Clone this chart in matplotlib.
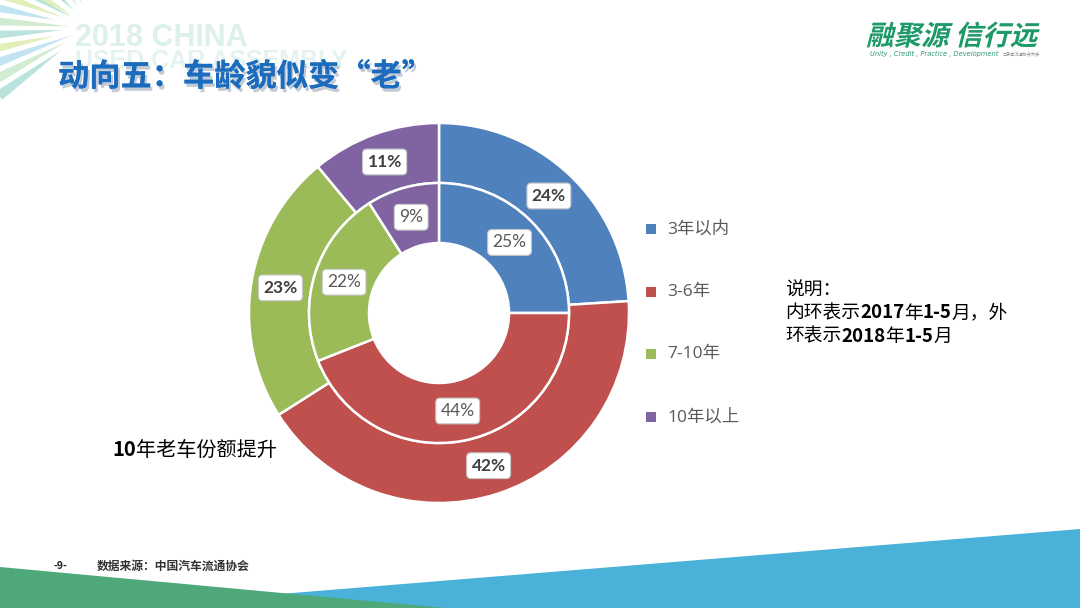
import numpy as np
import matplotlib
matplotlib.use("Agg")
import matplotlib.pyplot as plt
from matplotlib.patches import Rectangle, Polygon, PathPatch
from matplotlib.textpath import TextPath
from matplotlib.font_manager import FontProperties
from matplotlib.transforms import Affine2D, IdentityTransform
import matplotlib.patheffects as pe

plt.rcParams['font.family'] = ['Noto Sans CJK SC', 'DejaVu Sans']

# ---------------- data ----------------
categories = ["3年以内", "3-6年", "7-10年", "10年以上"]
inner_2017 = [25, 44, 22, 9]     # 2017年1-5月
outer_2018 = [24, 42, 23, 11]    # 2018年1-5月
colors = ["#4F81BD", "#C0504D", "#9BBB59", "#8064A2"]

title = "动向五：车龄貌似变“老”"
note_title = "说明："
source = "数据来源：中国汽车流通协会"
annotation = "10年老车份额提升"

W, H = 1080, 608
fig = plt.figure(figsize=(W / 100, H / 100), dpi=100)
fig.patch.set_facecolor("white")


def fx(x):
    return x / W


def fy(y):
    return 1 - y / H


# ---------------- background decorations ----------------
bg = fig.add_axes([0, 0, 1, 1], zorder=0)
bg.set_xlim(0, W)
bg.set_ylim(H, 0)
bg.axis("off")

# starburst rays (top-left)
cx, cy = 92, 28
ray_cols = ["#A8DCD4", "#DCEBA6", "#B3DCEF", "#C6E8C8"]
angles = np.arange(152, 222, 8)
for i, a in enumerate(angles):
    r0, r1 = 22 + (i % 3) * 8, 115
    da = np.deg2rad(2.6)
    t = np.deg2rad(a)
    p = [(cx + r0 * np.cos(t), cy - r0 * np.sin(t)),
         (cx + r1 * np.cos(t - da), cy - r1 * np.sin(t - da)),
         (cx + r1 * np.cos(t + da), cy - r1 * np.sin(t + da))]
    bg.add_patch(Polygon(p, closed=True, fc=ray_cols[i % 4], ec="none", alpha=0.8))
for i, a in enumerate(np.arange(100, 150, 12)):
    r0, r1 = 25, 60
    da = np.deg2rad(3)
    t = np.deg2rad(a)
    p = [(cx + r0 * np.cos(t), cy - r0 * np.sin(t)),
         (cx + r1 * np.cos(t - da), cy - r1 * np.sin(t - da)),
         (cx + r1 * np.cos(t + da), cy - r1 * np.sin(t + da))]
    bg.add_patch(Polygon(p, closed=True, fc=ray_cols[(i + 1) % 4], ec="none", alpha=0.8))

# watermark text
bg.text(75, 46, "2018 CHINA", fontsize=22, color="#DDF0EC", fontweight="bold",
        family="Liberation Sans", va="baseline", ha="left")
bg.text(75, 68, "USED CAR ASSEMBLY", fontsize=18, color="#E4F3F0", fontweight="bold",
        family="Liberation Sans", va="baseline", ha="left")

# bottom bands
bg.add_patch(Polygon([(280, 594), (1080, 529), (1080, 608), (280, 608)],
                     closed=True, fc="#4AB2D9", ec="none"))
bg.add_patch(Polygon([(0, 567), (445, 608), (0, 608)],
                     closed=True, fc="#4FA87A", ec="none"))

# logo
fp_logo = FontProperties(family="Noto Sans CJK SC", weight="heavy")
tp = TextPath((0, 0), "融聚源 信行远", size=27.5, prop=fp_logo)
tr = Affine2D().skew_deg(14, 0).translate(866, H - 45)
fig.patches.append(PathPatch(tp, transform=tr + IdentityTransform(),
                             fc="#1E9A6A", ec="none", figure=fig))
fig.text(fx(870), fy(54), "Unity , Credit , Practice , Development", fontsize=4.8,
         color="#2A9A70", style="italic", family="DejaVu Sans", va="center")
fig.text(fx(1003), fy(54), "二手车流通协会大会", fontsize=3, color="#888888", va="center")

# title
fig.text(fx(58), fy(77), title, fontsize=22.5, fontweight="bold", color="#1B6CBF",
         va="center", ha="left",
         path_effects=[pe.withSimplePatchShadow(offset=(1.5, -2.5), shadow_rgbFace="#9AA8B8", alpha=0.6),
                       pe.Normal()])

# ---------------- donut chart ----------------
cxp, cyp, R = 439, 313, 190
ax = fig.add_axes([fx(cxp - R), fy(cyp + R), (2 * R) / W, (2 * R) / H], zorder=2)
w = 60 / R
r_in = 130 / R

ax.pie(outer_2018, radius=1.0, colors=colors, startangle=90, counterclock=False,
       wedgeprops=dict(width=1 - r_in, edgecolor="white", linewidth=1.8))
ax.pie(inner_2017, radius=r_in, colors=colors, startangle=90, counterclock=False,
       wedgeprops=dict(width=w, edgecolor="white", linewidth=1.8))
ax.set_xlim(-1, 1)
ax.set_ylim(-1, 1)
ax.set_aspect("equal")
ax.axis("off")


def label_ring(vals, rlab, bold):
    start = 90.0
    tot = float(sum(vals))
    for v in vals:
        sweep = 360.0 * v / tot
        mid = np.deg2rad(start - sweep / 2)
        start -= sweep
        ax.text(rlab * np.cos(mid), rlab * np.sin(mid), f"{v}%",
                ha="center", va="center", fontsize=12.5,
                fontweight="bold" if bold else "normal",
                color="#404040" if bold else "#595959", family=["Lato", "DejaVu Sans"],
                bbox=dict(boxstyle="round,pad=0.28,rounding_size=0.25", fc="white",
                          ec="#C8C8C8", lw=0.8))


label_ring(outer_2018, 0.845, True)
label_ring(inner_2017, 0.525, False)

# ---------------- legend ----------------
leg_y = [229, 292, 354, 417]
for c, lab, y in zip(colors, categories, leg_y):
    fig.patches.append(Rectangle((fx(646), fy(y + 5)), 10 / W, 10 / H, fc=c, ec="none",
                                 transform=fig.transFigure, figure=fig))
    fig.text(fx(667), fy(y), lab, fontsize=12.5, color="#595959", va="center", ha="left",
             family=["Open Sans", "Noto Sans CJK SC"])

# ---------------- mixed-weight text helper ----------------
renderer = fig.canvas.get_renderer()


def runs(x, y, parts, size, color="black"):
    cur = x
    for txt, wt in parts:
        t = fig.text(fx(cur), fy(y), txt, fontsize=size, fontweight=wt, color=color,
                     va="center", ha="left")
        bb = t.get_window_extent(renderer=renderer)
        cur += bb.width


runs(785, 290, [(note_title, "medium")], 13.5)
runs(785, 313, [("内环表示", "medium"), ("2017", "bold"), ("年", "medium"),
                ("1-5", "bold"), ("月，外", "medium")], 13.5)
runs(785, 336, [("环表示", "medium"), ("2018", "bold"), ("年", "medium"),
                ("1-5", "bold"), ("月", "medium")], 13.5)

runs(112, 450, [("10", "bold"), ("年老车份额提升", "normal")], 14.5)

# footer
fig.text(fx(53), fy(566), "-9-", fontsize=7.5, fontweight="bold", color="#222222", va="center")
fig.text(fx(97), fy(566), source, fontsize=8.5, fontweight="bold", color="#333333", va="center")

fig.savefig("out.png", dpi=100, facecolor="white")
